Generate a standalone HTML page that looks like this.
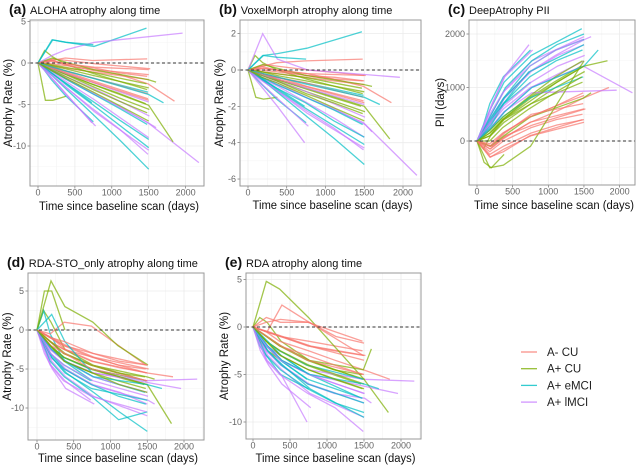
<!DOCTYPE html>
<html><head><meta charset="utf-8">
<style>
html,body{margin:0;padding:0;background:#fff;}
svg{display:block;font-family:"Liberation Sans",sans-serif;}
.tick{font-size:9px;fill:#666;}
.ttl{font-size:11px;fill:#111;}
.lab{font-size:11.5px;fill:#111;}
</style></head>
<body>
<svg id="chart" width="640" height="467" viewBox="0 0 640 467"></svg>
<script>
const groupNames = ["A- CU","A+ CU","A+ eMCI","A+ lMCI"];
const groupColors = ["#F8766D","#7CAE00","#00BFC4","#C77CFF"];
const subjectGroups = [0,1,2,3,0,1,2,3,0,1,2,3,3,2,0,3,1,2,0,1,2,3,0,1,2,3,0,3,1,2,0,1,2,3,0,1,2,3,0,1];
const subjectTimes = [
[0,180,370,740,1100,1500],[0,90,190,380,760,1480],[0,180,370,730],[0,200,390,770,1500],
[0,180,360,750,1110,1490,1850],[0,100,200,380],[0,190,380,760,1470],[0,180,370,740,1100,1510,1600],
[0,210,400,780,1520],[0,180,360,720,1080,1460],[0,90,180,370,750],[0,190,390,760,1130,1500],
[0,180,370,750,1490,2180],[0,200,380,740,1500],[0,180,370,760,1110,1480],[0,190,380,730],
[0,180,360,750,1500,1830],[0,200,400,770,1120,1500],[0,180,370,740,1480],[0,190,380,760,1100,1510],
[0,180,360,730,1490],[0,100,210,390,780],[0,180,370,760,1120,1500],[0,190,380,750,1490,1600],
[0,180,370,740,1110,1480],[0,200,390,760,1500],[0,180,360,740,1100,1490],[0,190,380,770,1960],
[0,180,370,750,1500],[0,180,370,740,1110,1500],[0,190,390,760,1490],[0,180,360,730,1090,1470],
[0,200,380,750],[0,180,370,760,1130,1510],[0,190,380,740,1500],[0,180,370,750,1100,1480],
[0,200,390,770,1500,1700],[0,180,360,740,1110,1490],[0,190,380,760,1500],[0,180,370,750,1120,1500]];
const valuesA = [
[0,-0.3,-0.6,-1.1,-1.5,-2.0],[0,1.5,0.8,-0.2,-1.3,-3.2],[0,-1.2,-2.4,-4.8],[0,-1.5,-3.0,-5.9,-10.5],
[0,0.4,-0.2,-0.9,-1.4,-2.5,-4.6],[0,-4.5,-4.5,-4.0],[0,2.8,2.5,2.0,4.2],[0,-0.8,-1.9,-3.7,-5.2,-7.3,-7.8],
[0,0.5,0.3,-0.1,-0.7],[0,-0.5,-1.2,-2.5,-3.6,-4.9],[0,-0.9,-2.0,-3.9,-7.1],[0,-1.1,-2.3,-4.4,-6.7,-9.0],
[0,-0.9,-1.8,-3.6,-7.2,-12.0],[0,-1.3,-2.6,-5.0,-10.2],[0,0.2,-0.1,-0.6,-1.2,-1.6],[0,-1.8,-3.7,-7.2],
[0,-0.6,-1.3,-2.6,-5.1,-9.5],[0,-1.6,-3.3,-6.4,-9.4,-12.8],[0,0.3,0.6,0.3,0.5],[0,-0.7,-1.4,-2.9,-4.2,-5.6],
[0,-0.4,-0.9,-1.8,-3.5],[0,-1.0,-2.1,-3.9,-7.6],[0,-0.1,-0.3,-0.8,-1.1,-1.4],[0,0.6,0.1,-0.8,-2.0,-2.3],
[0,-0.9,-1.9,-3.7,-5.5,-7.4],[0,-0.6,-1.3,-2.4,-4.7],[0,-0.4,-0.9,-1.8,-2.7,-3.7],[0,0.9,1.6,2.5,3.6],
[0,-0.3,-0.7,-1.5,-3.0],[0,-1.2,-2.4,-4.6,-6.9,-9.2],[0,-0.5,-1.1,-2.2,-4.3],[0,-0.2,-0.5,-1.1,-1.8,-2.5],
[0,2.8,2.5,2.2],[0,-0.7,-1.6,-3.1,-4.7,-6.4],[0,-0.6,-1.2,-2.3,-4.5],[0,-0.8,-1.6,-3.2,-4.6,-6.0],
[0,-0.5,-1.0,-1.9,-3.8,-4.8],[0,-1.4,-2.8,-5.5,-8.0,-11.0],[0,0.3,-0.1,-0.5,-0.8],[0,-0.9,-1.8,-3.5,-5.2,-7.0]];
const valuesB = [
[0,-0.1,-0.2,-0.4,-0.6,-0.8],[0,0.8,0.4,0.0,-0.5,-1.3],[0,-0.5,-1.0,-2.0],[0,-0.6,-1.2,-2.4,-4.3],
[0,0.2,0.0,-0.3,-0.5,-0.9,-1.8],[0,-1.5,-1.6,-1.5],[0,0.8,0.9,1.2,2.1],[0,-0.4,-0.8,-1.5,-2.1,-3.0,-3.4],
[0,0.3,0.2,0.0,-0.3],[0,-0.2,-0.5,-1.0,-1.5,-2.0],[0,-0.4,-0.8,-1.6,-2.9],[0,-0.5,-0.9,-1.8,-2.7,-3.7],
[0,-0.4,-0.7,-1.5,-2.9,-5.8],[0,-0.5,-1.1,-2.1,-4.1],[0,0.1,0.0,-0.2,-0.5,-0.6],[0,-1.0,-2.0,-4.0],
[0,-0.2,-0.5,-1.0,-2.0,-3.8],[0,-0.6,-1.3,-2.6,-3.8,-5.2],[0,0.2,0.4,0.5,0.6],[0,-0.3,-0.6,-1.2,-1.7,-2.3],
[0,-0.2,-0.4,-0.7,-1.4],[0,-0.4,-0.9,-1.6,-3.1],[0,0.0,-0.1,-0.3,-0.4,-0.6],[0,0.3,0.1,-0.3,-0.8,-0.9],
[0,-0.4,-0.8,-1.5,-2.2,-3.0],[0,-0.3,-0.5,-1.0,-1.9],[0,-0.2,-0.4,-0.7,-1.1,-1.5],[0,2.0,0.6,0.0,-0.4],
[0,-0.1,-0.3,-0.6,-1.2],[0,-0.5,-1.0,-1.8,-2.8,-3.7],[0,-0.2,-0.4,-0.9,-1.7],[0,-0.1,-0.2,-0.4,-0.7,-1.0],
[0,0.8,0.7,0.6],[0,-0.3,-0.6,-1.2,-1.9,-2.6],[0,-0.2,-0.5,-0.9,-1.8],[0,-0.3,-0.6,-1.3,-1.8,-2.4],
[0,-0.2,-0.4,-0.8,-1.5,-1.9],[0,-0.6,-1.1,-2.2,-3.2,-4.4],[0,0.1,0.0,-0.2,-0.3],[0,-0.4,-0.7,-1.4,-2.1,-2.8]];
const valuesC = [
[0,-100,150,450,650,850],[0,-150,100,400,700,1100],[0,300,700,1300],[0,500,950,1500,1950],
[0,-150,50,350,550,800,1000],[0,-400,-500,-250],[0,600,1100,1600,2100],[0,400,800,1300,1600,1900,1950],
[0,-100,100,300,600],[0,100,400,800,1100,1400],[0,300,700,1200,1700],[0,350,800,1300,1600,1800],
[0,300,600,1000,1400,900],[0,400,800,1300,1800],[0,-200,0,250,400,500],[0,600,1200,1800],
[0,150,400,800,1400,1500],[0,500,1000,1500,1800,2000],[0,-300,-200,100,400],[0,100,350,700,1000,1300],
[0,200,450,800,1200],[0,300,700,1200,1700],[0,-250,-100,150,300,400],[0,-100,100,450,800,900],
[0,350,700,1200,1500,1700],[0,250,550,1000,1500],[0,-50,150,450,650,900],[0,250,550,900,950],
[0,-500,-450,-100,1500],[0,400,800,1400,1700,1900],[0,-100,150,500,700],[0,0,250,600,900,1200],
[0,300,700,1100],[0,350,650,1100,1400,1600],[0,-150,50,350,600],[0,200,450,850,1200,1500],
[0,250,550,1000,1400,1700],[0,500,900,1400,1700,1900],[0,-300,-150,100,350],[0,150,400,750,1100,1400]];
const valuesD = [
[0,-1.5,-2.5,-4.0,-4.8,-5.5],[0,2.5,1.0,-2.5,-4.5,-6.5],[0,-3.0,-4.5,-6.5],[0,-4.0,-6.0,-8.5,-11.0],
[0,-1.0,-2.0,-3.5,-4.5,-5.5,-6.0],[0,5.0,5.0,0.0],[0,-2.5,-4.0,-6.0,-8.0],[0,-3.5,-5.0,-7.0,-8.0,-9.0,-9.5],
[0,-1.0,-2.0,-3.5,-5.0],[0,-2.0,-3.5,-5.0,-6.0,-7.0],[0,2.5,-0.5,-4.0,-6.5],[0,-3.0,-5.0,-7.0,-8.0,-9.5],
[0,-2.5,-4.0,-5.5,-6.5,-6.3],[0,-3.5,-5.5,-7.5,-9.0],[0,-1.5,-2.5,-3.5,-4.5,-5.0],[0,-4.5,-6.5,-9.0],
[0,-2.0,-3.5,-5.0,-7.0,-12.0],[0,-3.5,-5.5,-8.0,-10.5,-13.0],[0,-0.5,1.0,0.5,-4.5],[0,6.3,3.0,1.0,-2.0,-4.5],
[0,-2.0,-3.5,-5.0,-6.5],[0,-3.0,-5.0,-7.5,-9.5],[0,-1.0,-2.0,-3.0,-4.0,-4.5],[0,-1.5,-3.0,-4.5,-6.0,-6.3],
[0,-3.0,-5.0,-7.0,-8.5,-9.5],[0,-2.5,-4.0,-6.0,-8.0],[0,-1.5,-3.0,-4.5,-5.5,-6.5],[0,-2.5,-4.0,-5.5,-7.5],
[0,-2.0,-3.5,-5.0,-7.0],[0,-4.0,-6.0,-8.5,-11.5,-10.5],[0,-1.0,-2.5,-4.0,-5.5],[0,-1.5,-3.0,-4.5,-5.5,-6.0],
[0,2.0,-1.5,-5.5],[0,-3.0,-4.5,-6.5,-7.5,-8.5],[0,-2.0,-3.0,-5.0,-6.5],[0,-2.0,-4.0,-5.5,-6.5,-7.5],
[0,-2.5,-4.0,-6.0,-7.0,-7.5],[0,-4.5,-6.5,-8.5,-9.5,-10.5],[0,-1.0,-1.5,-3.0,-4.5],[0,-2.0,-4.0,-5.5,-7.0,-8.0]];
const valuesE = [
[0,-0.5,-1.0,-2.0,-2.5,-3.0],[0,1.0,0.5,-1.5,-3.5,-5.5],[0,-2.0,-3.5,-5.5],[0,-3.0,-4.5,-7.0,-9.5],
[0,-0.5,-1.5,-2.5,-3.5,-4.5,-5.5],[0,-1.5,-2.5,-3.5],[0,-2.0,-3.0,-5.0,-7.5],[0,-2.5,-4.0,-6.0,-7.0,-7.5,-8.0],
[0,-0.5,-1.0,-2.0,-3.0],[0,-1.5,-2.5,-4.0,-5.0,-6.0],[0,-2.0,-3.0,-5.0,-6.5],[0,-2.5,-4.0,-6.0,-7.0,-8.0],
[0,-2.0,-3.0,-4.5,-5.5,-5.7],[0,-2.5,-4.0,-6.0,-8.0],[0,-0.5,-1.0,-1.5,-2.0,-2.5],[0,-3.5,-5.0,-10.0],
[0,4.8,4.0,1.0,-5.5,-9.0],[0,-2.5,-4.0,-6.5,-8.0,-9.5],[0,1.0,0.5,0.5,-1.5],[0,-1.0,-2.0,-3.5,-4.5,-5.5],
[0,-1.5,-2.5,-4.0,-5.5],[0,-2.5,-4.0,-6.0,-8.5],[0,0.5,0.8,0.5,-1.0,-1.7],[0,-1.0,-2.0,-3.5,-4.5,-2.3],
[0,-2.0,-3.5,-5.5,-6.5,-7.5],[0,-2.0,-3.5,-5.0,-7.0],[0,-1.0,-2.0,-3.0,-4.0,-5.0],[0,-2.0,-3.5,-5.0,-7.0],
[0,-1.5,-2.5,-4.0,-6.0],[0,-3.0,-4.5,-6.5,-8.0,-9.0],[0,-0.5,2.3,0.5,-3.0],[0,-1.0,-2.0,-3.5,-4.5,-5.0],
[0,-1.5,-3.0,-5.0],[0,-2.0,-3.5,-5.0,-6.0,-7.0],[0,-1.0,-2.0,-3.5,-5.0],[0,-1.5,-3.0,-4.5,-5.5,-6.5],
[0,-2.0,-3.5,-5.0,-6.0,-6.5],[0,-3.5,-5.0,-7.0,-8.5,-11.0],[0,-0.5,-1.0,-2.0,-3.5],[0,-1.5,-3.0,-4.5,-5.5,-6.5]];
const xTicks = [0,500,1000,1500,2000];
const yTicksA = [5,0,-5,-10];
const yTicksB = [2,0,-2,-4,-6];
const yTicksC = [2000,1000,0];
const yTicksD = [5,0,-5,-10];
const yTicksE = [5,0,-5,-10];

const NS="http://www.w3.org/2000/svg";
const svg=document.getElementById('chart');
function mk(tag,attrs,parent){const e=document.createElementNS(NS,tag);for(const k in attrs)e.setAttribute(k,attrs[k]);(parent||svg).appendChild(e);return e;}

const panels=[
 {key:"a",letter:"(a)",title:"ALOHA atrophy along time",ylab:"Atrophy Rate (%)",vals:valuesA,ticks:yTicksA,
  box:[30,20,204,186],x0:38,xs:0.0738,y0:63,ys:8.3,ylx:12,xlabY:210},
 {key:"b",letter:"(b)",title:"VoxelMorph atrophy along time",ylab:"Atrophy Rate (%)",vals:valuesB,ticks:yTicksB,
  box:[240,20,421,186],x0:248,xs:0.0775,y0:70,ys:18.17,ylx:223,xlabY:209},
 {key:"c",letter:"(c)",title:"DeepAtrophy PII",ylab:"PII (days)",vals:valuesC,ticks:yTicksC,
  box:[469,20,635,185],x0:477,xs:0.0713,y0:141,ys:0.0535,ylx:444,xlabY:209},
 {key:"d",letter:"(d)",title:"RDA-STO_only atrophy along time",ylab:"Atrophy Rate (%)",vals:valuesD,ticks:yTicksD,
  box:[28,273,204,440],x0:37,xs:0.0735,y0:330,ys:7.8,ylx:11,xlabY:462},
 {key:"e",letter:"(e)",title:"RDA atrophy along time",ylab:"Atrophy Rate (%)",vals:valuesE,ticks:yTicksE,
  box:[246,273,421,439],x0:253,xs:0.0740,y0:327,ys:9.5,ylx:228,xlabY:462}
];

panels.forEach(p=>{
  const g=mk('g',{});
  
  
  const X=t=>p.x0+t*p.xs, Y=v=>p.y0-v*p.ys;
  const [l,t,r,b]=p.box;
  const clipId='clip-'+p.key;
  const cp=mk('clipPath',{id:clipId},g); mk('rect',{x:l,y:t,width:r-l,height:b-t},cp);
  for(let i=0;i<xTicks.length;i++){
    const xm=X(xTicks[i]+250); if(xm<r){mk('line',{x1:xm,x2:xm,y1:t,y2:b,stroke:'#f4f4f4','stroke-width':0.6},g);}
  }
  const step=p.ticks[0]-p.ticks[1];
  for(let i=-1;i<p.ticks.length;i++){
    const base=i<0?p.ticks[0]:p.ticks[i];
    const ym=Y(base-step/2); if(ym>t&&ym<b)mk('line',{x1:l,x2:r,y1:ym,y2:ym,stroke:'#f4f4f4','stroke-width':0.6},g);
    if(i<0){const yu=Y(base+step/2); if(yu>t&&yu<b)mk('line',{x1:l,x2:r,y1:yu,y2:yu,stroke:'#f4f4f4','stroke-width':0.6},g);}
  }
  xTicks.forEach(tv=>{
    const x=X(tv);
    mk('line',{x1:x,x2:x,y1:t,y2:b,stroke:'#ebebeb','stroke-width':0.8},g);
    mk('line',{x1:x,x2:x,y1:b,y2:b+2.5,stroke:'#555','stroke-width':0.6},g);
    const tx=mk('text',{x:x,y:b+9.5,'text-anchor':'middle',class:'tick'},g); tx.textContent=tv;
    
    
  });
  p.ticks.forEach(tv=>{
    const y=Y(tv);
    mk('line',{x1:l,x2:r,y1:y,y2:y,stroke:'#ebebeb','stroke-width':0.8},g);
    mk('line',{x1:l-2.5,x2:l,y1:y,y2:y,stroke:'#555','stroke-width':0.6},g);
    const tx=mk('text',{x:l-4,y:y+3,'text-anchor':'end',class:'tick'},g); tx.textContent=tv;
    
    
  });
  const sg=mk('g',{'clip-path':'url(#'+clipId+')'},g);
  p.vals.forEach((vs,i)=>{
    const ts=subjectTimes[i]; const n=Math.min(ts.length,vs.length);
    let d=''; for(let k=0;k<n;k++) d+=(k?'L':'M')+X(ts[k]).toFixed(1)+','+Y(vs[k]).toFixed(1);
    const pl=mk('path',{d:d,fill:'none',stroke:groupColors[subjectGroups[i]],'stroke-width':1.3,'stroke-opacity':0.7},sg);
    
    
  });
  const zl=mk('line',{x1:l,x2:r,y1:Y(0),y2:Y(0),stroke:'#333','stroke-width':0.9,'stroke-dasharray':'3,2.5'},g);
  
  
  const bx=mk('rect',{x:l,y:t,width:r-l,height:b-t,fill:'none',stroke:'#999','stroke-width':1},g);
  
  
  const tt=mk('text',{x:l-21,y:t-6,class:'ttl'},g);
  const s1=mk('tspan',{'font-size':'14px','font-weight':'bold'},tt); s1.textContent=p.letter+' ';
  const s2=mk('tspan',{},tt); s2.textContent=p.title;
  
  
  const yl=mk('text',{x:p.ylx,y:(t+b)/2,'text-anchor':'middle',class:'lab',transform:'rotate(-90 '+p.ylx+' '+((t+b)/2)+')'},g);
  yl.textContent=p.ylab;
  
  
  const xl=mk('text',{x:(l+r)/2+2,y:p.xlabY,'text-anchor':'middle',class:'lab',textLength:160,lengthAdjust:'spacingAndGlyphs'},g);
  xl.textContent='Time since baseline scan (days)';
  
  
});

const lg=mk('g',{});


groupNames.forEach((nm,i)=>{
  const y=352+i*16.7;
  const e=mk('g',{},lg);
  
  
  mk('line',{x1:521,x2:537,y1:y,y2:y,stroke:groupColors[i],'stroke-width':1.3,'stroke-opacity':0.8},e);
  const tx=mk('text',{x:547,y:y+4,'font-size':'11.5px',fill:'#222'},e); tx.textContent=nm;
});
</script>
</body></html>
